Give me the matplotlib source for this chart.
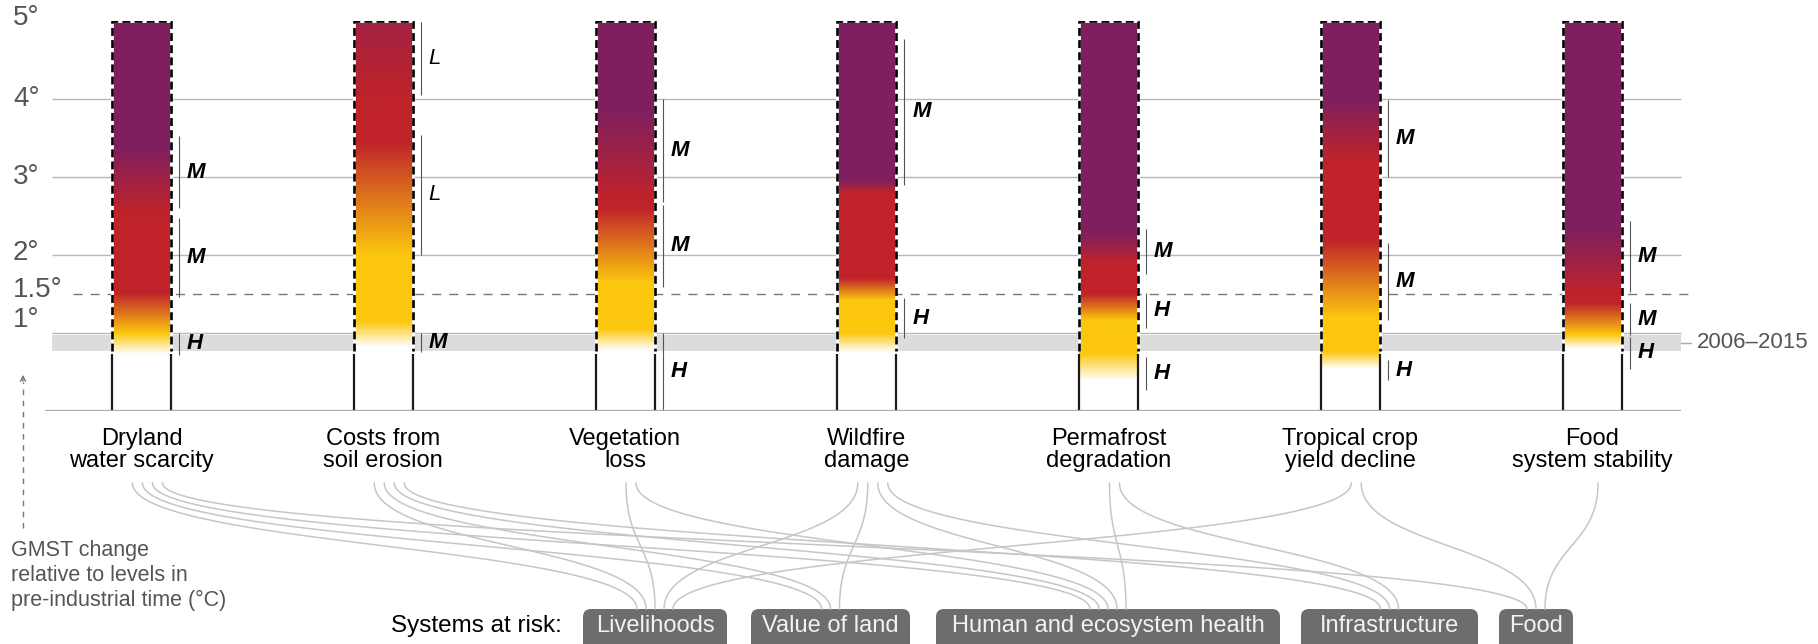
import numpy as np
import matplotlib
matplotlib.use('Agg')
import matplotlib.pyplot as plt
from matplotlib import font_manager
from matplotlib.patches import FancyBboxPatch

####################### Data ###########################

risks = ['Dryland\nwater scarcity', 'Costs from\nsoil erosion', 'Vegetation\nloss',
         'Wildfire\ndamage', 'Permafrost\ndegradation', 'Tropical crop\nyield decline',
         'Food\nsystem stability']

# colour stops along each bar: temperature (deg C) -> risk level
# 0 = undetectable, 1 = moderate, 2 = high, 3 = very high
risk_temps = [[0.73, 0.99, 1.51, 2.54, 3.38],
              [0.82, 1.15, 2.0, 3.45, 4.0, 5.0],
              [0.78, 1.05, 1.65, 2.6, 2.7, 3.85],
              [0.75, 1.0, 1.42, 1.7, 2.8, 2.96],
              [0.39, 0.74, 1.16, 1.5, 1.89, 2.28],
              [0.54, 0.76, 1.2, 2.19, 3.22, 3.99],
              [0.8, 0.98, 1.38, 1.5, 2.32]]
risk_levels = [[0, 1, 2, 2, 3],
               [0, 1, 1, 2, 2, 2.45],
               [0, 1, 1, 2, 2, 3],
               [0, 1, 1, 2, 2, 3],
               [0, 1, 1, 2, 2, 3],
               [0, 1, 1, 2, 2, 3],
               [0, 1, 2, 2, 3]]

# confidence brackets: (from, to, level)
confidence = [[(0.71, 1.0, 'H'), (1.46, 2.47, 'M'), (2.6, 3.52, 'M')],
              [(0.75, 1.0, 'M'), (2.0, 3.54, 'L'), (4.05, 4.99, 'L')],
              [(0.0, 1.0, 'H'), (1.59, 2.64, 'M'), (2.68, 4.0, 'M')],
              [(0.93, 1.44, 'H'), (2.9, 4.77, 'M')],
              [(0.26, 0.69, 'H'), (1.06, 1.51, 'H'), (1.75, 2.33, 'M')],
              [(0.39, 0.65, 'H'), (1.16, 2.15, 'M'), (3.0, 3.99, 'M')],
              [(0.54, 0.95, 'H'), (0.97, 1.38, 'M'), (1.52, 2.44, 'M')]]

systems = ['Livelihoods', 'Value of land', 'Human and ecosystem health', 'Infrastructure', 'Food']
# which systems each risk is linked to
risk_systems = [[0, 1, 2, 4], [0, 1, 2, 3], [0, 2], [0, 1, 2, 3], [2, 3], [0, 4], [4]]

y_ticks = [1, 1.5, 2, 3, 4, 5]
y_tick_labels = ['1°', '1.5°', '2°', '3°', '4°', '5°']
recent_band = (0.77, 0.97)
recent_label = '2006–2015'
future_from = 0.77  # dashed outline above this

level_colors = ['#ffffff', '#fcc70e', '#c0242a', '#801f5f']

####################### Layout ###########################

avail = {f.name for f in font_manager.fontManager.ttflist}
narrow = 'Liberation Sans Narrow' if 'Liberation Sans Narrow' in avail else 'Liberation Sans'
plt.rcParams['font.family'] = ['Liberation Sans', 'DejaVu Sans']

W, H = 1818, 644
bar_first, bar_step, bar_w = 141.5, 241.75, 59
centers = bar_first + bar_step * np.arange(len(risks))
grid_l, grid_r = 52, 1681
box_spans = [(583, 727), (751, 910), (936, 1280), (1301, 1478), (1499, 1573)]
box_top = 609
link_top = 483

fig = plt.figure(figsize=(W / 100, H / 100), dpi=100)
y0_px, y5_px = 410.6, 21.1
ax = fig.add_axes([0, 1 - y0_px / H, 1, (y0_px - y5_px) / H])
low = fig.add_axes([0, 0, 1, 1], zorder=-1)

####################### Chart ###########################

ax.fill_between([grid_l, grid_r], recent_band[0], recent_band[1], color='#dcdcdc', lw=0, zorder=0.5)
ax.hlines([1, 2, 3, 4], grid_l, grid_r, color='#b8b8b8', lw=1, zorder=1)
ax.hlines(0, 45, grid_r, color='#aaaaaa', lw=1.6, zorder=4)
ax.hlines(1.5, 73, 1692, color='#777777', lw=1, linestyles=(0, (6.5, 5.8)), zorder=1)

# y labels (1 deg label sits above the band)
nudge = {1: 0.16, 1.5: 0.05, 2: 0.02, 5: 0.04}
for v, s in zip(y_ticks, y_tick_labels):
    ax.text(13, v + nudge.get(v, 0), s, ha='left', va='center', fontsize=20,
            family=narrow, color='#555555')

ax.plot([grid_r, grid_r + 10], [sum(recent_band) / 2] * 2, color='#aaaaaa', lw=1)
ax.text(1697, sum(recent_band) / 2, recent_label, ha='left', va='center', fontsize=16, color='#555555')

pal = np.array([matplotlib.colors.to_rgb(c) for c in level_colors])
t = np.linspace(0, 5, 800)
for i, cx in enumerate(centers):
    lv = np.interp(t, risk_temps[i], risk_levels[i])
    idx = np.clip(np.floor(lv).astype(int), 0, 2)
    f = (lv - idx)[:, None]
    rgb = pal[idx] * (1 - f) + pal[idx + 1] * f
    l, r = cx - bar_w / 2, cx + bar_w / 2
    ax.imshow(rgb[:, None, :], extent=[l, r, 0, 5], origin='lower', aspect='auto',
              interpolation='bilinear', zorder=2)
    ox, oy = [l, l, r, r], [future_from, 5, 5, future_from]
    ax.plot(ox, oy, color='white', lw=2, zorder=3, solid_capstyle='butt')
    ax.plot(ox, oy, color='black', lw=1.9, ls=(0, (3, 1.6)), zorder=3.1)
    ax.vlines([l, r], 0, future_from - 0.04, color='#1a1a1a', lw=1.6, zorder=3)
    for lo, hi, c in confidence[i]:
        ax.vlines(r + 8, lo, hi, color='#555555', lw=0.8, zorder=3)
        ax.text(r + 16, (lo + hi) / 2, c, ha='left', va='center', fontsize=16,
                style='italic', weight='normal' if c == 'L' else 'bold', zorder=3)

ax.set_xlim(0, W)
ax.set_ylim(0, 5)
ax.axis('off')

####################### Labels, links, boxes ###########################

low.set_xlim(0, W)
low.set_ylim(H, 0)
low.axis('off')

for cx, name in zip(centers, risks):
    for k, line in enumerate(name.split('\n')):
        low.text(cx, 445 + 22 * k, line, ha='center', va='baseline', fontsize=17, color='black')

box_centers = [(a + b) / 2 for a, b in box_spans]
sources = [[i for i in range(len(risks)) if j in risk_systems[i]] for j in range(len(systems))]
s = np.linspace(0, 1, 100)[:, None]
for i, dests in enumerate(risk_systems):
    n = len(dests)
    for k, j in enumerate(sorted(dests)):
        xs = centers[i] + 6 + 10 * (k - (n - 1) / 2)
        m = len(sources[j])
        xe = box_centers[j] + 9 * (sources[j].index(i) - (m - 1) / 2)
        ye = box_top
        d = 0.5 * (ye - link_top)
        p = np.array([[xs, link_top], [xs, link_top + d], [xe, ye - d], [xe, ye]])
        b = ((1 - s) ** 3) * p[0] + 3 * ((1 - s) ** 2) * s * p[1] + 3 * (1 - s) * s ** 2 * p[2] + s ** 3 * p[3]
        low.plot(b[:, 0], b[:, 1], color='#c6c6c6', lw=1.1)

for (a, b), name in zip(box_spans, systems):
    low.add_patch(FancyBboxPatch((a, box_top), b - a, 50, boxstyle='round,pad=0,rounding_size=8',
                                 fc='#6d6d6d', ec='none'))
    low.text((a + b) / 2, 626, name, ha='center', va='center', fontsize=17, color='#f2f2f2')
low.text(562, 626, 'Systems at risk:', ha='right', va='center', fontsize=17.5, color='black')

# GMST axis note
low.plot([23, 23], [528, 382], color='#777777', lw=1, ls=(0, (4, 4)))
low.annotate('', xy=(23, 372), xytext=(23, 384),
             arrowprops=dict(arrowstyle='->', color='#777777', lw=1, mutation_scale=9))
for k, line in enumerate(['GMST change', 'relative to levels in', 'pre-industrial time (°C)']):
    low.text(11, 556 + 25 * k, line, ha='left', va='baseline', fontsize=15.5, color='#555555')

fig.savefig('out.png', dpi=100)
